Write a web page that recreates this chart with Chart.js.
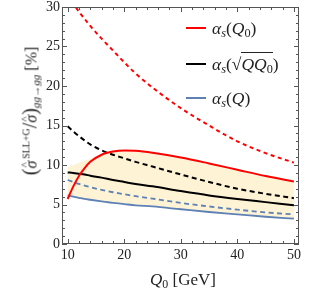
<!DOCTYPE html>
<html>
<head>
<meta charset="utf-8">
<script src="https://cdn.jsdelivr.net/npm/chart.js@4.4.1/dist/chart.umd.min.js"></script>
<style>
  body { margin: 0; background: #fff; }
  #wrap { position: relative; width: 309px; height: 296px; font-family: "Liberation Serif", serif; color: #222; }
  #grafico { position: absolute; left: 0; top: 0; }
  .leg { position: absolute; left: 186px; height: 20px; display: flex; align-items: center; font-size: 17.5px; white-space: nowrap; }
  .amostra { width: 20px; height: 0; border-top: 2px solid; margin-right: 6px; }
  .leg sub, .titulo sub { font-size: 70%; vertical-align: -0.25em; line-height: 0; }
  .titulo sup { font-size: 62%; vertical-align: 0.75em; line-height: 0; margin-left: 2px; }
  .raiz { border-top: 1px solid #222; padding-top: 1px; }
  #tituloY { position: absolute; left: 30px; top: 111px; transform: translate(-50%, -50%) rotate(-90deg); font-size: 16px; white-space: nowrap; }
  #tituloX { position: absolute; left: 183px; top: 280px; transform: translate(-50%, -50%); font-size: 17px; white-space: nowrap; }
  .grande { font-size: 125%; }
  .chapeu { position: relative; display: inline-block; font-style: italic; }
  .chapeu::after { content: "^"; position: absolute; left: 1px; top: -0.4em; font-size: 70%; font-style: normal; }
</style>
</head>
<body>
<div id="wrap">
  <canvas id="grafico" width="309" height="296"></canvas>
  <div class="leg" style="top:18px"><span class="amostra" style="border-color:#ff0000"></span><span><i>α</i><sub><i>s</i></sub>(<i>Q</i><sub>0</sub>)</span></div>
  <div class="leg" style="top:54px"><span class="amostra" style="border-color:#000"></span><span><i>α</i><sub><i>s</i></sub>(√<span class="raiz"><i>QQ</i><sub>0</sub></span>)</span></div>
  <div class="leg" style="top:88px"><span class="amostra" style="border-color:#5e81b5"></span><span><i>α</i><sub><i>s</i></sub>(<i>Q</i>)</span></div>
  <div id="tituloY" class="titulo"><span class="grande">(</span><span class="chapeu">σ</span><sup>SLL+G</sup><span class="grande">/</span><span class="chapeu">σ</span><span class="grande">)</span><sub><i>gg</i>→<i>gg</i></sub> [%]</div>
  <div id="tituloX" class="titulo"><i>Q</i><sub>0</sub> [GeV]</div>
</div>
<script>
// valores de Q0 (GeV)
const q0 = [10, 11, 12, 13, 14, 16, 18, 20, 22, 25, 30, 35, 40, 45, 50];

// alpha_s(Q0)
const vermelhoCheio = [5.7, 7.3, 8.6, 9.6, 10.4, 11.3, 11.7, 11.85, 11.8, 11.55, 10.95, 10.2, 9.4, 8.6, 7.9];
const vermelhoTracejado = [31.5, 30.4, 29.4, 28.5, 27.6, 26.0, 24.5, 23.0, 21.6, 19.8, 17.2, 15.0, 13.0, 11.5, 10.3];
// alpha_s(sqrt(Q Q0))
const pretoCheio = [9.05, 9.0, 8.9, 8.8, 8.65, 8.4, 8.1, 7.85, 7.6, 7.3, 6.7, 6.15, 5.7, 5.3, 4.9];
const pretoTracejado = [14.9, 14.25, 13.65, 13.1, 12.6, 11.85, 11.3, 10.85, 10.4, 9.8, 8.8, 7.85, 7.0, 6.35, 5.8];
// alpha_s(Q)
const azulCheio = [6.15, 6.0, 5.85, 5.7, 5.6, 5.4, 5.2, 5.05, 4.9, 4.75, 4.4, 4.05, 3.75, 3.45, 3.2];
const azulTracejado = [8.1, 7.85, 7.6, 7.4, 7.2, 6.85, 6.55, 6.3, 6.05, 5.75, 5.2, 4.75, 4.35, 4.0, 3.75];
// faixa (borda superior)
const faixaTopo = [9.7, 10.0, 10.3, 10.55, 10.8, 11.3, 11.7, 11.85, 11.8, 11.55, 10.95, 10.2, 9.4, 8.6, 7.9];

const ticksX = [10, 20, 30, 40, 50];
const ticksY = [0, 5, 10, 15, 20, 25, 30];

function pontos(valores) {
  return q0.map((x, i) => ({ x: x, y: valores[i] }));
}

function serie(valores, cor, tracos, largura) {
  return {
    data: pontos(valores),
    borderColor: cor,
    borderWidth: largura,
    borderDash: tracos,
    pointRadius: 0,
    fill: false,
    cubicInterpolationMode: "monotone",
  };
}

// moldura com ticks para dentro (estilo Mathematica)
const moldura = {
  id: "moldura",
  afterDatasetsDraw(chart) {
    const { ctx, chartArea: a, scales } = chart;
    ctx.save();
    ctx.strokeStyle = "#555";
    ctx.lineWidth = 1;
    ctx.strokeRect(a.left + 0.5, a.top + 0.5, a.width - 1, a.height - 1);
    ctx.beginPath();
    for (let v = 10; v <= 50; v += 2) {
      const px = Math.round(scales.x.getPixelForValue(v)) + 0.5;
      const t = v % 10 === 0 ? 5 : 3;
      ctx.moveTo(px, a.bottom); ctx.lineTo(px, a.bottom - t);
      ctx.moveTo(px, a.top); ctx.lineTo(px, a.top + t);
    }
    for (let v = 0; v <= 30; v += 1) {
      const py = Math.round(scales.y.getPixelForValue(v)) + 0.5;
      const t = v % 5 === 0 ? 5 : 3;
      ctx.moveTo(a.left, py); ctx.lineTo(a.left + t, py);
      ctx.moveTo(a.right, py); ctx.lineTo(a.right - t, py);
    }
    ctx.stroke();
    ctx.restore();
  },
};

const grafico = new Chart(document.getElementById("grafico"), {
  type: "line",
  data: {
    datasets: [
      serie(vermelhoCheio, "#ff0000", [], 2),
      serie(vermelhoTracejado, "#ff0000", [4, 3.5], 2),
      serie(pretoCheio, "#000000", [], 2),
      serie(pretoTracejado, "#000000", [5, 3.5], 2),
      serie(azulCheio, "#5e81b5", [], 1.8),
      serie(azulTracejado, "#5e81b5", [5, 3.5], 1.8),
      {
        data: pontos(faixaTopo),
        borderWidth: 0,
        borderColor: "rgba(0,0,0,0)",
        backgroundColor: "#fff3d6",
        pointRadius: 0,
        fill: { target: 4 },
        cubicInterpolationMode: "monotone",
      },
    ],
  },
  options: {
    responsive: false,
    animation: false,
    devicePixelRatio: 1,
    layout: { padding: { top: 7, right: 10, left: 0, bottom: 0 } },
    plugins: { legend: { display: false }, tooltip: { enabled: false } },
    scales: {
      x: {
        type: "linear",
        min: 9.0,
        max: 50.9,
        grid: { display: false, drawTicks: false },
        border: { display: false },
        afterBuildTicks: (s) => { s.ticks = ticksX.map((v) => ({ value: v })); },
        afterFit: (s) => { s.height = 52; s.paddingLeft = 0; s.paddingRight = 0; },
        ticks: { padding: 3, maxRotation: 0, color: "#222", font: { family: "Liberation Serif", size: 14 } },
      },
      y: {
        min: 0,
        max: 30,
        grid: { display: false, drawTicks: false },
        border: { display: false },
        afterBuildTicks: (s) => { s.ticks = ticksY.map((v) => ({ value: v })); },
        afterFit: (s) => { s.width = 62; s.paddingTop = 0; s.paddingBottom = 0; },
        ticks: { padding: 2, color: "#222", font: { family: "Liberation Serif", size: 14 } },
      },
    },
  },
  plugins: [moldura],
});
</script>
</body>
</html>
